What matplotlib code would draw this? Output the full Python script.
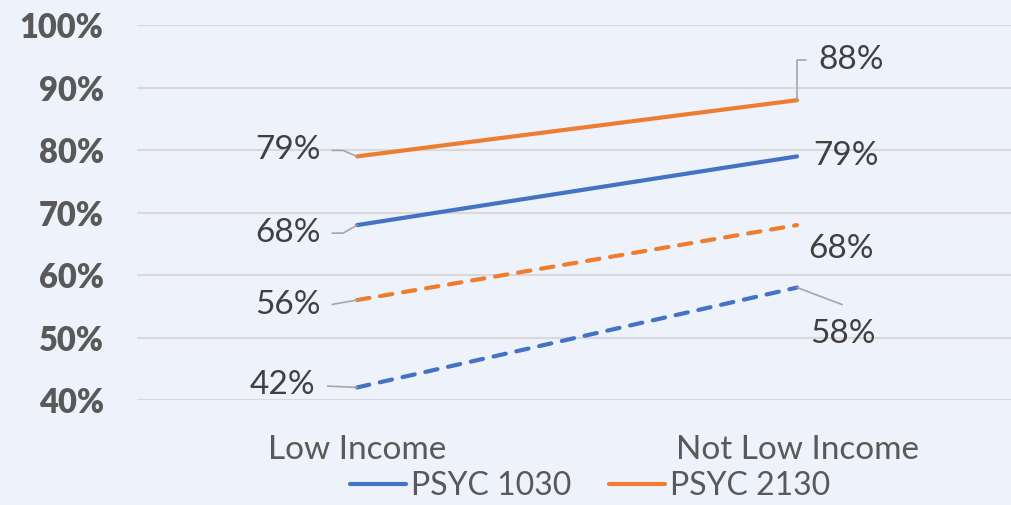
import matplotlib.pyplot as plt
from matplotlib.ticker import PercentFormatter

# data (percent)
categories = ['Low Income', 'Not Low Income']
psyc1030_solid = [68, 79]
psyc2130_solid = [79, 88]
psyc2130_dashed = [56, 68]
psyc1030_dashed = [42, 58]
y_ticks = [40, 50, 60, 70, 80, 90, 100]

blue = '#4472C4'
orange = '#ED7D31'
bg = '#EEF2FA'
grid_col = '#D9D9D9'
leader_col = '#A6A6A6'

plt.rcParams['font.family'] = ['Lato', 'DejaVu Sans']

fig = plt.figure(figsize=(10.12, 5.05), dpi=100, facecolor=bg)
ax = fig.add_axes([0.1354, 0.208, 0.8696, 0.742])
ax.set_facecolor(bg)

x = range(len(categories))
lw = 3.0
l1, = ax.plot(x, psyc1030_solid, color=blue, lw=lw, solid_capstyle='round', label='PSYC 1030', zorder=3)
l2, = ax.plot(x, psyc2130_solid, color=orange, lw=lw, solid_capstyle='round', label='PSYC 2130', zorder=3)
ax.plot(x, psyc2130_dashed, color=orange, lw=lw, dashes=(3, 2.6), dash_capstyle='round', zorder=3)
ax.plot(x, psyc1030_dashed, color=blue, lw=lw, dashes=(3, 2.6), dash_capstyle='round', zorder=3)

ax.set_xlim(-0.5, 1.5)
ax.set_ylim(40, 100)
ax.set_yticks(y_ticks)
ax.yaxis.set_major_formatter(PercentFormatter(decimals=0))
ax.set_xticks(list(x))
ax.set_xticklabels(categories)
ax.grid(axis='y', color=grid_col, lw=1.5)
ax.set_axisbelow(True)
for s in ax.spines.values():
    s.set_visible(False)
ax.tick_params(axis='y', length=0, pad=24, labelsize=23.5, labelcolor='#595959')
ax.tick_params(axis='x', length=0, pad=25, labelsize=24, labelcolor='#595959')
for t in ax.get_yticklabels():
    t.set_fontweight('heavy')


def label(xi, yi, dx, dy, ha, conn=None, shrink=6):
    kw = {}
    if conn is not None:
        relpos = (1, 0.5) if ha == 'right' else (0, 0.5)
        kw['arrowprops'] = dict(arrowstyle='-', color=leader_col, lw=1.2, shrinkA=shrink,
                                shrinkB=0, connectionstyle=conn, relpos=relpos)
    ax.annotate(f'{yi}%', (xi, yi), xytext=(dx, dy), textcoords='offset pixels',
                ha=ha, va='center', fontsize=24, color='#404040', **kw)


# left side labels
label(0, psyc2130_solid[0], -36, 6, 'right', 'angle,angleA=0,angleB=157,rad=0')
label(0, psyc1030_solid[0], -36, -8, 'right', 'angle,angleA=0,angleB=30,rad=0')
label(0, psyc2130_dashed[0], -36, -5, 'right', 'angle,angleA=0,angleB=10,rad=0')
label(0, psyc1030_dashed[0], -42, 2, 'right', 'arc3,rad=0', shrink=7)
# right side labels
label(1, psyc2130_solid[1], 21, 40, 'left', 'angle,angleA=0,angleB=90,rad=0', shrink=7)
label(1, psyc1030_solid[1], 16, 0, 'left')
label(1, psyc2130_dashed[1], 11, -24, 'left')
label(1, psyc1030_dashed[1], 13, -46, 'left')
ax.annotate('', (1, psyc1030_dashed[1]), xytext=(45, -17), textcoords='offset pixels',
            arrowprops=dict(arrowstyle='-', color=leader_col, lw=1.2, shrinkA=0, shrinkB=0))

fig.legend(handles=[l1, l2], loc='center', bbox_to_anchor=(0.583, 0.038), ncol=2,
           frameon=False, fontsize=23, labelcolor='#595959', handlelength=1.75,
           handletextpad=0.15, columnspacing=1.2)

fig.savefig('out.png', dpi=100, facecolor=bg)
